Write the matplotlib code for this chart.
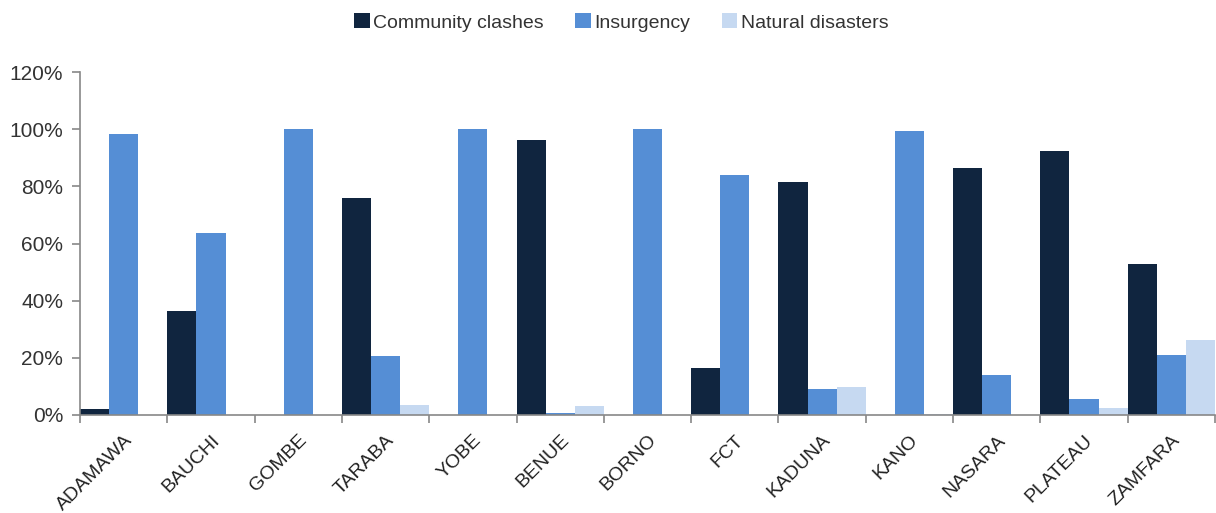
import matplotlib
matplotlib.use("Agg")
import matplotlib.pyplot as plt
import numpy as np
from matplotlib.ticker import FuncFormatter, FixedLocator

categories = ["ADAMAWA", "BAUCHI", "GOMBE", "TARABA", "YOBE", "BENUE", "BORNO",
              "FCT", "KADUNA", "KANO", "NASARA", "PLATEAU", "ZAMFARA"]
community_clashes = [2.0, 36.5, 0, 76.0, 0, 96.2, 0, 16.4, 81.5, 0, 86.4, 92.4, 52.9]
insurgency = [98.3, 63.6, 100, 20.6, 100, 0.8, 100, 83.9, 9.0, 99.4, 14.0, 5.6, 21.0]
natural_disasters = [0, 0, 0, 3.5, 0, 3.2, 0, 0, 9.8, 0.5, 0, 2.3, 26.3]
series_names = ["Community clashes", "Insurgency", "Natural disasters"]
colors = ["#10253f", "#558ed5", "#c6d9f1"]

plt.rcParams['font.family'] = ['Liberation Sans', 'DejaVu Sans']

fig = plt.figure(figsize=(12.16, 5.13), dpi=100)
ax = fig.add_axes([80/1216, (513-415)/513, 1135/1216, (415-72)/513])

x = np.arange(len(categories))
w = 1/3
for i, (vals, name, c) in enumerate(zip([community_clashes, insurgency, natural_disasters], series_names, colors)):
    ax.bar(x - 0.5 + w/2 + i*w, vals, width=w, color=c, label=name, linewidth=0)

ax.set_xlim(-0.5, len(categories) - 0.5)
ax.set_ylim(0, 120)
ax.set_yticks(np.arange(0, 121, 20))
ax.yaxis.set_major_formatter(FuncFormatter(lambda v, p: f"{int(v)}%"))

ax.set_xticks(x)
ax.set_xticklabels(categories, rotation=45, ha='right', rotation_mode='anchor')
ax.xaxis.set_minor_locator(FixedLocator(np.arange(-0.5, len(categories), 1)))
ax.tick_params(axis='x', which='major', length=0, pad=12, labelsize=14, colors='#222222')
ax.tick_params(axis='x', which='minor', length=6, width=1.2, color='#888888', direction='out')
ax.tick_params(axis='y', length=6, width=1.2, color='#888888', labelsize=15, labelcolor='#333333', pad=6)

for s in ['top', 'right']:
    ax.spines[s].set_visible(False)
for s in ['left', 'bottom']:
    ax.spines[s].set_color('#888888')
    ax.spines[s].set_linewidth(1.2)

leg = fig.legend(loc='upper center', bbox_to_anchor=(0.511, 1.008), ncol=3, frameon=False,
                 fontsize=14, handlelength=0.8, handleheight=0.8, handletextpad=0.2,
                 columnspacing=1.6)
for t in leg.get_texts():
    t.set_color('#333333')

fig.savefig("out.png", dpi=100)
